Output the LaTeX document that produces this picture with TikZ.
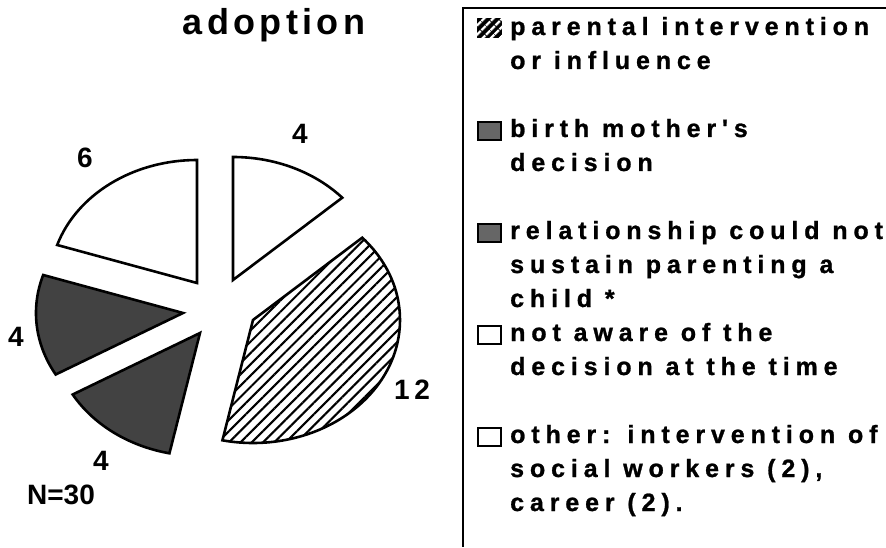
\documentclass[tikz,border=0pt]{standalone}
\usepackage{fontspec}
\setmainfont{Liberation Sans}
\newfontfamily\legendfont[LetterSpace=23.5, FakeBold=1, UprightFont={* Bold}]{Liberation Sans}
\newfontfamily\titlefont[LetterSpace=12]{Liberation Sans}
\usetikzlibrary{patterns.meta}

\tikzset{
  slice/.style={draw=black, line width=2.6pt, line join=miter},
  whiteslice/.style={slice, fill=white},
  darkslice/.style={slice, fill=black!74},
  hatchslice/.style={slice, pattern={Lines[angle=45, distance=8pt, line width=2.1pt]}},
  numlabel/.style={font=\fontsize{28}{32}\selectfont\bfseries},
  legtext/.style={anchor=base west, align=left, inner sep=0pt,
    font=\fontsize{25}{34}\selectfont\legendfont},
  swatch/.style={draw=black, line width=1.8pt}
}

\begin{document}
\begin{tikzpicture}[x=1pt, y=1pt]
    \useasboundingbox (0,0) rectangle (886,547);
    % title
    \node[font=\fontsize{36}{40}\selectfont\titlefont\bfseries, anchor=base] (title) at (274,512) {adoption};
    % slice apexes (exploded)
    \coordinate (cwa) at (233,267);
    \coordinate (cpa) at (253,227);
    \coordinate (cbm) at (200,214);
    \coordinate (crs) at (183,234);
    \coordinate (cwb) at (197,264);
    % slices
    \draw[whiteslice] (cwa) -- ++(90:147 and 123) arc[start angle=90, end angle=42, x radius=147, y radius=123] -- cycle;
    \draw[hatchslice] (cpa) -- ++(42:147 and 123) arc[start angle=42, end angle=-102, x radius=147, y radius=123] -- cycle;
    \draw[darkslice] (cbm) -- ++(-102:147 and 123) arc[start angle=-102, end angle=-150, x radius=147, y radius=123] -- cycle;
    \draw[darkslice] (crs) -- ++(-150:147 and 123) arc[start angle=-150, end angle=-198, x radius=147, y radius=123] -- cycle;
    \draw[whiteslice] (cwb) -- ++(162:147 and 123) arc[start angle=162, end angle=90, x radius=147, y radius=123] -- cycle;
    % values
    \node[numlabel] (nwa) at (300,413) {4};
    \node[numlabel] (npa) at (412,157) {1\,2};
    \node[numlabel] (nbm) at (101,86) {4};
    \node[numlabel] (nrs) at (16,210) {4};
    \node[numlabel] (nwb) at (85,389) {6};
    \node[numlabel] (ntot) at (61,52) {N=30};
    % legend frame
    \draw[line width=2pt] (886,539) -- (463,539) -- (463,0);
    % legend swatches
    \fill[black] (477,509) rectangle (502,529);
    \fill[pattern={Lines[angle=45, distance=6.5pt, line width=2.4pt]}, pattern color=white] (477,509) rectangle (502,529);
    \draw[swatch, fill=black!60] (478,407) rectangle (501,425);
    \draw[swatch, fill=black!60] (478,305) rectangle (501,323);
    \draw[swatch, fill=white] (478,203) rectangle (501,221);
    \draw[swatch, fill=white] (478,101) rectangle (501,119);
    % legend texts (anchored at last line)
    \node[legtext] (lpa) at (510,478) {parental intervention\\or influence};
    \node[legtext] (lbm) at (510,376) {birth mother's\\decision};
    \node[legtext] (lrs) at (510,240) {relationship could not\\sustain parenting a\\child *};
    \node[legtext] (lna) at (510,172) {not aware of the\\decision at the time};
    \node[legtext] (lot) at (510,36) {other: intervention of\\social workers (2),\\career (2).};
\end{tikzpicture}
\end{document}
